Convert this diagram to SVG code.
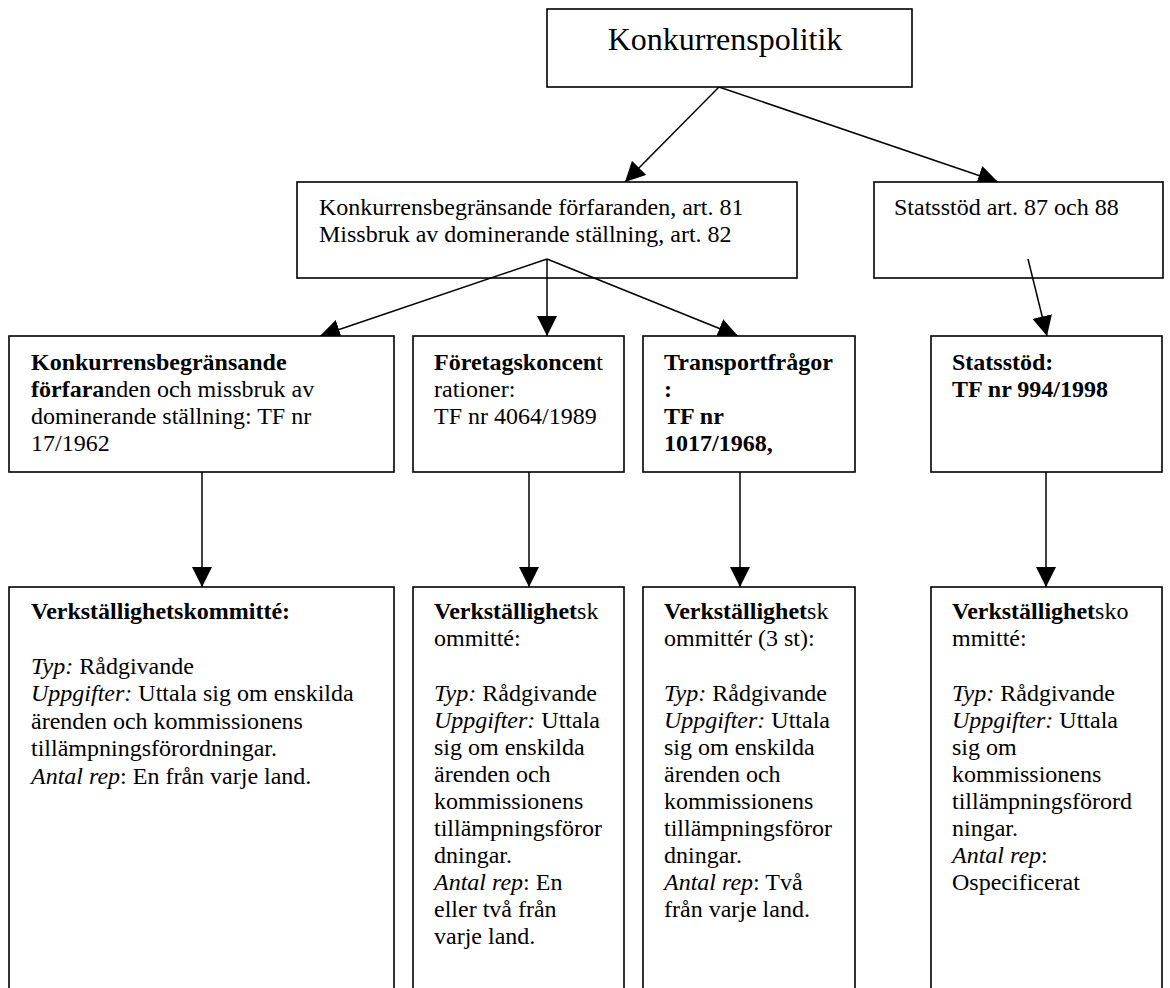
<svg xmlns="http://www.w3.org/2000/svg" width="1170" height="988" viewBox="0 0 1170 988">
<style>
.box{fill:#fff;stroke:#000;stroke-width:1.6}
.t{font-family:"Liberation Serif","Times New Roman",serif;font-size:24px;fill:#000}
.b{font-weight:bold}
.i{font-style:italic}
.c{stroke:#000;stroke-width:1.5;fill:none}
</style>
<defs>
<marker id="ah" markerUnits="userSpaceOnUse" markerWidth="20" markerHeight="20" refX="20" refY="10" orient="auto" viewBox="0 0 20 20">
<path d="M0,0 L20,10 L0,20 z" fill="#000"/>
</marker>
</defs>
<rect width="1170" height="988" fill="#fff"/>
<g id="connectors">
<line class="c" x1="719" y1="87" x2="625" y2="182" marker-end="url(#ah)"/>
<line class="c" x1="719" y1="87" x2="998" y2="182" marker-end="url(#ah)"/>
</g>
<g id="n-root">
<rect class="box" x="547" y="9" width="365" height="78"/>
<text class="t" x="725" y="50" text-anchor="middle" style="font-size:32px">Konkurrenspolitik</text>
</g>
<g id="n-art8182">
<rect class="box" x="297" y="182" width="500" height="96"/>
<text class="t" x="319" y="215">Konkurrensbegränsande förfaranden, art. 81</text>
<text class="t" x="319" y="242">Missbruk av dominerande ställning, art. 82</text>
</g>
<g id="n-art8788">
<rect class="box" x="874" y="182" width="289" height="96"/>
<text class="t" x="894" y="215">Statsstöd art. 87 och 88</text>
</g>
<g id="connectors2">
<line class="c" x1="547" y1="259" x2="320" y2="336" marker-end="url(#ah)"/>
<line class="c" x1="547" y1="259" x2="547" y2="336" marker-end="url(#ah)"/>
<line class="c" x1="547" y1="259" x2="738" y2="336" marker-end="url(#ah)"/>
<line class="c" x1="1028" y1="259" x2="1047" y2="336" marker-end="url(#ah)"/>
<line class="c" x1="202" y1="472" x2="202" y2="587" marker-end="url(#ah)"/>
<line class="c" x1="529" y1="472" x2="529" y2="587" marker-end="url(#ah)"/>
<line class="c" x1="740" y1="472" x2="740" y2="587" marker-end="url(#ah)"/>
<line class="c" x1="1046" y1="472" x2="1046" y2="587" marker-end="url(#ah)"/>
</g>
<g id="n-tf17">
<rect class="box" x="9" y="336" width="385" height="136"/>
<text class="t" x="31" y="370"><tspan class="b">Konkurrensbegränsande</tspan></text>
<text class="t" x="31" y="397"><tspan class="b">förfara</tspan>nden och missbruk av</text>
<text class="t" x="31" y="424">dominerande ställning: TF nr</text>
<text class="t" x="31" y="451">17/1962</text>
</g>
<g id="n-tf4064">
<rect class="box" x="413" y="336" width="211" height="136"/>
<text class="t" x="434" y="370"><tspan class="b">Företagskoncen</tspan>t</text>
<text class="t" x="434" y="397">rationer:</text>
<text class="t" x="434" y="424">TF nr 4064/1989</text>
</g>
<g id="n-tf1017">
<rect class="box" x="643" y="336" width="212" height="136"/>
<text class="t b" x="664" y="370">Transportfrågor</text>
<text class="t b" x="664" y="397">:</text>
<text class="t b" x="664" y="424">TF nr</text>
<text class="t b" x="664" y="451">1017/1968,</text>
</g>
<g id="n-tf994">
<rect class="box" x="931" y="336" width="231" height="136"/>
<text class="t b" x="952" y="370">Statsstöd:</text>
<text class="t b" x="952" y="397">TF nr 994/1998</text>
</g>
<g id="n-vk1">
<rect class="box" x="9" y="587" width="385" height="420"/>
<text class="t" x="31" y="619"><tspan class="b">Verkställighetskommitté:</tspan></text>
<text class="t" x="31" y="673.5"><tspan class="i">Typ:</tspan> Rådgivande</text>
<text class="t" x="31" y="701"><tspan class="i">Uppgifter:</tspan> Uttala sig om enskilda</text>
<text class="t" x="31" y="728.5">ärenden och kommissionens</text>
<text class="t" x="31" y="756">tillämpningsförordningar.</text>
<text class="t" x="31" y="783.5"><tspan class="i">Antal rep</tspan>: En från varje land.</text>
</g>
<g id="n-vk2">
<rect class="box" x="413" y="587" width="211" height="420"/>
<text class="t" x="434" y="619"><tspan class="b">Verkställighet</tspan>sk</text>
<text class="t" x="434" y="646">ommitté:</text>
<text class="t" x="434" y="701"><tspan class="i">Typ:</tspan> Rådgivande</text>
<text class="t" x="434" y="728">
<tspan class="i">Uppgifter:</tspan> Uttala</text>
<text class="t" x="434" y="755">sig om enskilda</text>
<text class="t" x="434" y="782">ärenden och</text>
<text class="t" x="434" y="809">kommissionens</text>
<text class="t" x="434" y="836">tillämpningsföror</text>
<text class="t" x="434" y="863">dningar.</text>
<text class="t" x="434" y="890"><tspan class="i">Antal rep</tspan>: En</text>
<text class="t" x="434" y="917">eller två från</text>
<text class="t" x="434" y="944">varje land.</text>
</g>
<g id="n-vk3">
<rect class="box" x="643" y="587" width="212" height="420"/>
<text class="t" x="664" y="619"><tspan class="b">Verkställighet</tspan>sk</text>
<text class="t" x="664" y="646">ommittér (3 st):</text>
<text class="t" x="664" y="701"><tspan class="i">Typ:</tspan> Rådgivande</text>
<text class="t" x="664" y="728"><tspan class="i">Uppgifter:</tspan> Uttala</text>
<text class="t" x="664" y="755">sig om enskilda</text>
<text class="t" x="664" y="782">ärenden och</text>
<text class="t" x="664" y="809">kommissionens</text>
<text class="t" x="664" y="836">tillämpningsföror</text>
<text class="t" x="664" y="863">dningar.</text>
<text class="t" x="664" y="890"><tspan class="i">Antal rep</tspan>: Två</text>
<text class="t" x="664" y="917">från varje land.</text>
</g>
<g id="n-vk4">
<rect class="box" x="931" y="587" width="231" height="420"/>
<text class="t" x="952" y="619"><tspan class="b">Verkställighet</tspan>sko</text>
<text class="t" x="952" y="646">mmitté:</text>
<text class="t" x="952" y="701"><tspan class="i">Typ:</tspan> Rådgivande</text>
<text class="t" x="952" y="728"><tspan class="i">Uppgifter:</tspan> Uttala</text>
<text class="t" x="952" y="755">sig om</text>
<text class="t" x="952" y="782">kommissionens</text>
<text class="t" x="952" y="809">tillämpningsförord</text>
<text class="t" x="952" y="836">ningar.</text>
<text class="t" x="952" y="863"><tspan class="i">Antal rep</tspan>:</text>
<text class="t" x="952" y="890">Ospecificerat</text>
</g>
</svg>
